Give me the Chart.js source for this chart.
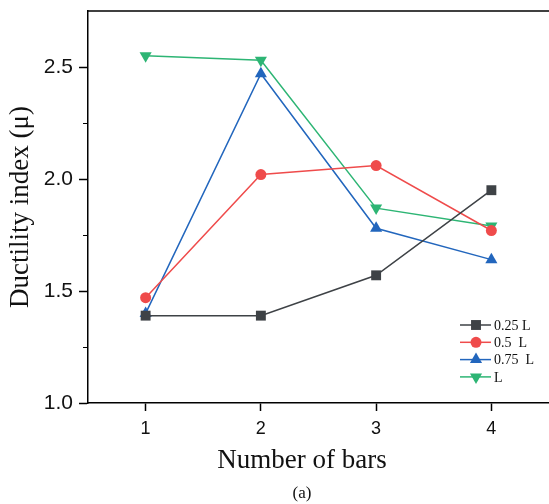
<!DOCTYPE html>
<html>
<head>
<meta charset="utf-8">
<script src="https://cdn.jsdelivr.net/npm/chart.js@4.4.0/dist/chart.umd.min.js"></script>
<style>
  html, body { margin: 0; padding: 0; background: #fff; }
  #wrap { width: 549px; height: 504px; }
</style>
</head>
<body>
<div id="wrap"><canvas id="ductChart" width="549" height="504"></canvas></div>
<script>
// number of bars on x
const barCounts = [1, 2, 3, 4];
const xTicks = [1, 2, 3, 4];
const yTicks = [1.0, 1.5, 2.0, 2.5];

// ductility index per spacing
const q25 = [1.39, 1.39, 1.57, 1.95];
const q50 = [1.47, 2.02, 2.06, 1.77];
const q75 = [1.40, 2.47, 1.78, 1.64];
const full = [2.55, 2.53, 1.87, 1.79];

const seriesNames = ["0.25 L", "0.5  L", "0.75  L", "L"];

const serif = "'Liberation Serif', 'Times New Roman', serif";
const sans = "'Liberation Sans', Arial, sans-serif";

function pts(vals) {
  return vals.map((v, i) => ({ x: barCounts[i], y: v }));
}

function makeSet(label, vals, color, style, radius, rotation) {
  return {
    label: label,
    data: pts(vals),
    borderColor: color,
    backgroundColor: color,
    borderWidth: 1.5,
    pointStyle: style,
    pointRadius: radius,
    pointHoverRadius: radius,
    pointRotation: rotation,
    pointBorderWidth: 0,
    tension: 0
  };
}

// hand-drawn bits: top frame, minor y ticks, legend, caption
const extras = {
  id: "extras",
  afterDraw(chart) {
    const ctx = chart.ctx;
    const area = chart.chartArea;
    const y = chart.scales.y;
    ctx.save();
    ctx.strokeStyle = "#000";
    ctx.lineWidth = 1.5;
    ctx.beginPath();
    ctx.moveTo(area.left, area.top);
    ctx.lineTo(area.right, area.top);
    ctx.stroke();

    ctx.lineWidth = 1;
    [1.25, 1.75, 2.25].forEach(v => {
      const py = Math.round(y.getPixelForValue(v)) + 0.5;
      ctx.beginPath();
      ctx.moveTo(area.left - 5, py);
      ctx.lineTo(area.left, py);
      ctx.stroke();
    });

    // legend
    ctx.font = "14px " + serif;
    ctx.textBaseline = "middle";
    ctx.textAlign = "left";
    chart.data.datasets.forEach((ds, i) => {
      const ly = 325 + i * 17.3;
      ctx.strokeStyle = ds.borderColor;
      ctx.lineWidth = 1.5;
      ctx.beginPath();
      ctx.moveTo(460, ly);
      ctx.lineTo(491, ly);
      ctx.stroke();
      ctx.fillStyle = ds.backgroundColor;
      Chart.helpers.drawPoint(ctx, {
        pointStyle: ds.pointStyle,
        rotation: ds.pointRotation,
        borderWidth: 0,
        radius: ds.pointRadius
      }, 476, ly);
      ctx.fillStyle = "#111";
      ctx.fillText(seriesNames[i], 494, ly + 1);
    });

    // axis title and caption
    ctx.fillStyle = "#111";
    ctx.textAlign = "center";
    ctx.font = "27px " + serif;
    ctx.fillText("Number of bars", 302, 461);
    ctx.font = "17px " + serif;
    ctx.fillText("(a)", 302, 494);
    ctx.restore();
  }
};

const ctx = document.getElementById("ductChart").getContext("2d");
const chart = new Chart(ctx, {
  type: "line",
  data: {
    datasets: [
      makeSet(seriesNames[0], q25, "#3e4246", "rect", 7, 0),
      makeSet(seriesNames[1], q50, "#ef4b4b", "circle", 5.5, 0),
      makeSet(seriesNames[2], q75, "#2266bd", "triangle", 7, 0),
      makeSet(seriesNames[3], full, "#2db574", "triangle", 7, 180)
    ]
  },
  options: {
    responsive: false,
    animation: false,
    layout: { autoPadding: false, padding: { top: 11, right: 0, bottom: 0, left: 0 } },
    plugins: {
      legend: { display: false },
      tooltip: { enabled: false }
    },
    scales: {
      x: {
        type: "linear",
        min: 0.5,
        max: 4.5,
        afterFit: s => {
          s.height = 101;
          s.paddingLeft = 0;
          s.paddingRight = 0;
        },
        afterBuildTicks: s => { s.ticks = xTicks.map(v => ({ value: v })); },
        grid: { drawOnChartArea: false, tickLength: 8, tickColor: "#000", tickWidth: 1.5 },
        border: { color: "#000", width: 1.5 },
        ticks: {
          font: { family: sans, size: 18 },
          color: "#111",
          padding: 7,
          maxRotation: 0
        }
      },
      y: {
        min: 1.0,
        max: 2.75,
        afterFit: s => {
          s.width = 88;
          s.paddingTop = 0;
          s.paddingBottom = 0;
        },
        afterBuildTicks: s => { s.ticks = yTicks.map(v => ({ value: v })); },
        grid: { drawOnChartArea: false, tickLength: 9, tickColor: "#000", tickWidth: 1.5 },
        border: { color: "#000", width: 1.5 },
        ticks: {
          font: { family: sans, size: 21 },
          color: "#111",
          padding: 6,
          callback: v => v.toFixed(1)
        },
        title: {
          display: true,
          text: "Ductility index (\u03bc)",
          font: { family: serif, size: 27 },
          color: "#111",
          padding: { top: 5, bottom: 0 }
        }
      }
    }
  },
  plugins: [extras]
});
</script>
</body>
</html>
